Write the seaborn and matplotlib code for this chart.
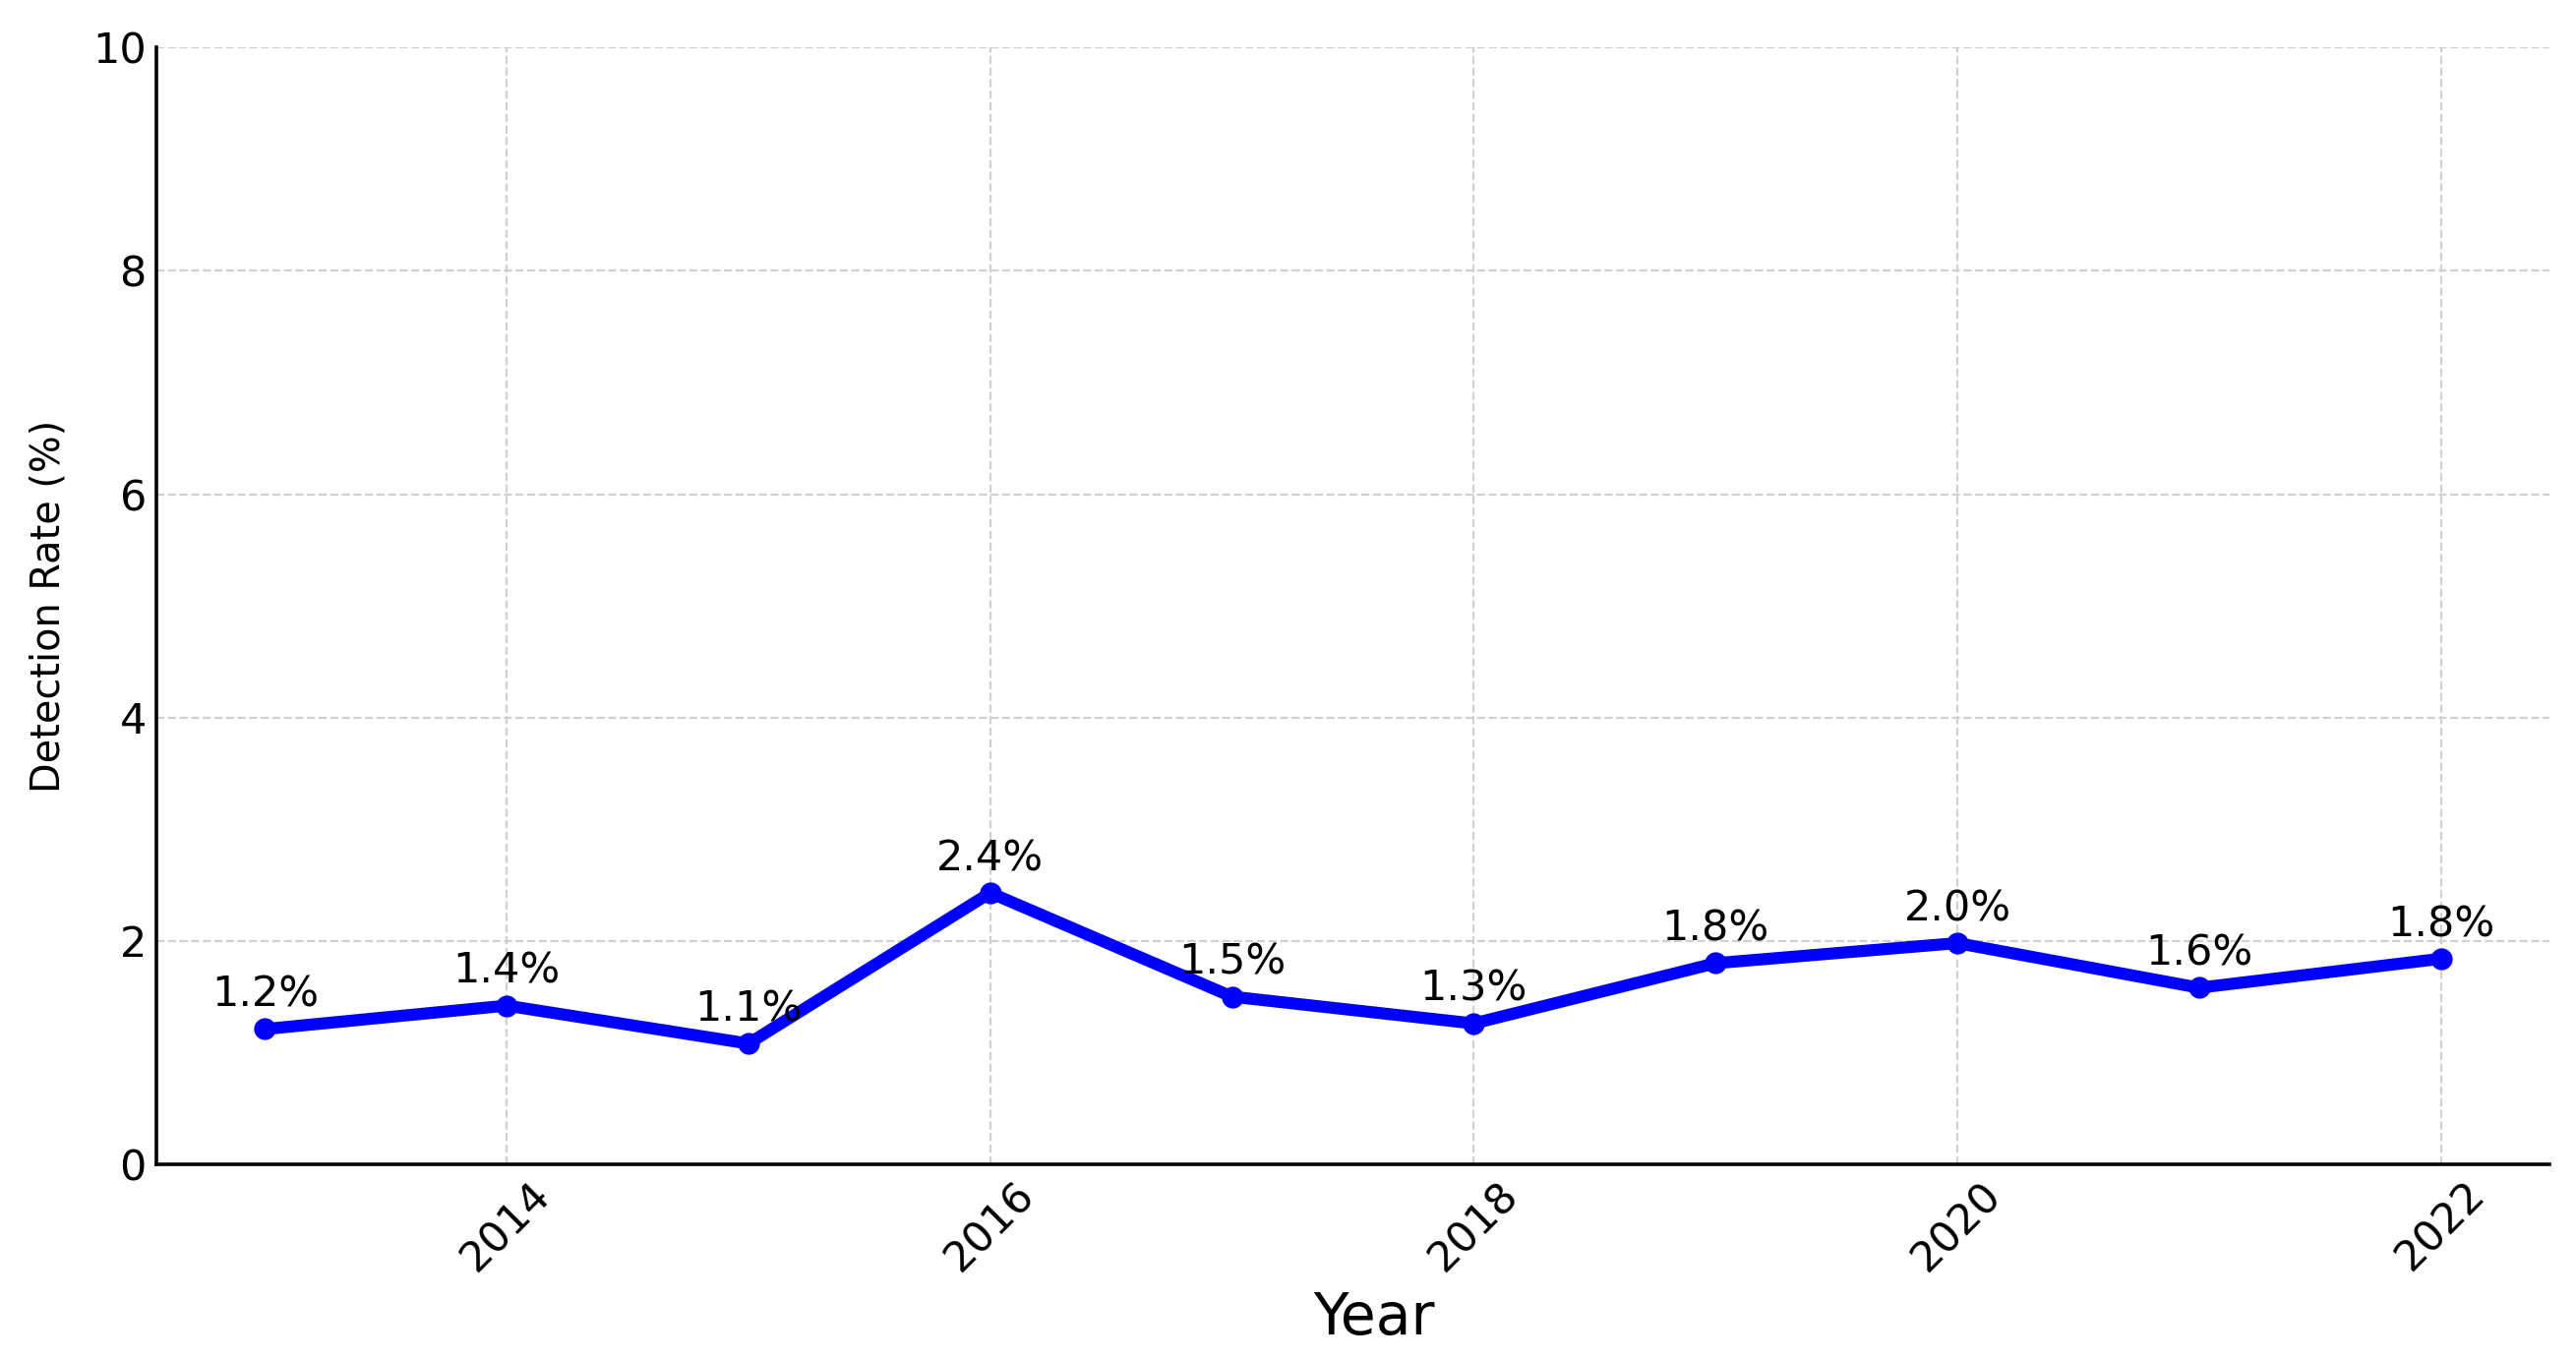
import matplotlib
matplotlib.use("Agg")
import matplotlib.pyplot as plt
import seaborn as sns
import pandas as pd

years = [2013, 2014, 2015, 2016, 2017, 2018, 2019, 2020, 2021, 2022]
rates = [1.21, 1.42, 1.08, 2.43, 1.50, 1.26, 1.80, 1.98, 1.58, 1.84]
labels = ["1.2%", "1.4%", "1.1%", "2.4%", "1.5%", "1.3%", "1.8%", "2.0%", "1.6%", "1.8%"]
x_ticks = [2014, 2016, 2018, 2020, 2022]
y_ticks = [0, 2, 4, 6, 8, 10]

df = pd.DataFrame({"Year": years, "Rate": rates})

sns.set_style("white")
plt.rcParams['font.family'] = ['DejaVu Sans']

fig = plt.figure(figsize=(2619 / 200, 1383 / 200), dpi=200)
ax = fig.add_axes([0.0606, 0.144, 0.9292, 0.821])

sns.lineplot(data=df, x="Year", y="Rate", ax=ax, color="#0000FF",
             linewidth=4.4, marker="o", markersize=8, markeredgewidth=0)

for xv, yv, lab in zip(years, rates, labels):
    ax.annotate(lab, (xv, yv), xytext=(0, 5), textcoords="offset points",
                ha="center", va="bottom", fontsize=15.5, color="black")

ax.set_ylim(0, 10)
ax.set_xlim(2012.55, 2022.45)
ax.set_xticks(x_ticks)
ax.set_yticks(y_ticks)
ax.set_xticklabels([str(t) for t in x_ticks], rotation=45, ha="center")
ax.tick_params(axis="both", direction="in", labelsize=15.5, length=5, width=1.2, colors="black")
ax.grid(True, linestyle="--", color="#d0d0d0", linewidth=0.8)
ax.set_axisbelow(True)

for s in ["top", "right"]:
    ax.spines[s].set_visible(False)
for s in ["left", "bottom"]:
    ax.spines[s].set_color("black")
    ax.spines[s].set_linewidth(1.3)

ax.set_xlabel("Year", fontsize=21, color="black")
ax.set_ylabel("Detection Rate (%)", fontsize=14.3, color="black")
ax.xaxis.set_label_coords(0.509, -0.113)
ax.yaxis.set_label_coords(-0.0365, 0.5)

fig.savefig("out.png", dpi=200)
